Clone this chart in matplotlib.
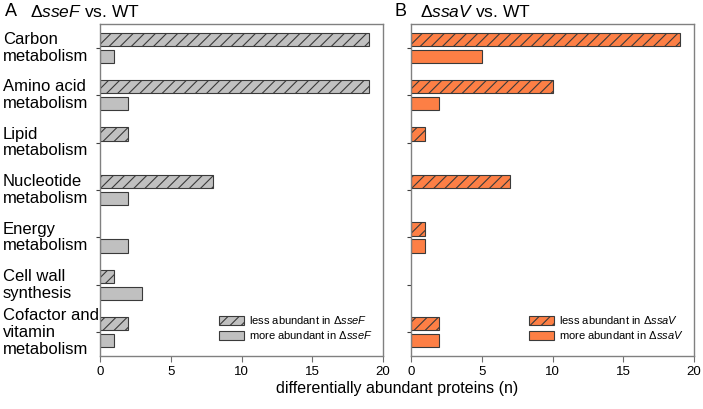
import matplotlib.pyplot as plt
import matplotlib.transforms as mtransforms
from matplotlib.patches import Patch
import numpy as np

plt.rcParams['font.family'] = ['Liberation Sans', 'DejaVu Sans']
plt.rcParams['mathtext.fontset'] = 'custom'
plt.rcParams['mathtext.rm'] = 'Liberation Sans'
plt.rcParams['mathtext.it'] = 'Liberation Sans:italic'
plt.rcParams['hatch.linewidth'] = 0.8

categories = ["Carbon\nmetabolism", "Amino acid\nmetabolism", "Lipid\nmetabolism",
              "Nucleotide\nmetabolism", "Energy\nmetabolism", "Cell wall\nsynthesis",
              "Cofactor and\nvitamin\nmetabolism"]
ssef_less = [19, 19, 2, 8, 0, 1, 2]
ssef_more = [1, 2, 0, 2, 2, 3, 1]
ssav_less = [19, 10, 1, 7, 1, 0, 2]
ssav_more = [5, 2, 0, 0, 1, 0, 2]
xticks = [0, 5, 10, 15, 20]

W, H = 703, 409
fig = plt.figure(figsize=(W / 100, H / 100), dpi=100)
axA = fig.add_axes([100 / W, 1 - 356 / H, 283 / W, 332 / H])
axB = fig.add_axes([411 / W, 1 - 356 / H, 283 / W, 332 / H])

y = np.arange(len(categories))
bh = 0.28
off = 0.18
edge = '#3a3a3a'

panels = [
    (axA, ssef_less, ssef_more, '#c0c0c0', 'sseF'),
    (axB, ssav_less, ssav_more, '#fd7f45', 'ssaV'),
]
for ax, less, more, col, name in panels:
    for i in range(len(y)):
        if less[i] > 0:
            ax.barh(y[i] - off, less[i], height=bh, color=col, edgecolor=edge,
                    linewidth=0.8, hatch='///')
        if more[i] > 0:
            ax.barh(y[i] + off, more[i], height=bh, color=col, edgecolor=edge,
                    linewidth=0.8)
    ax.set_xlim(0, 20)
    ax.set_ylim(len(categories) - 0.5, -0.5)
    ax.set_xticks(xticks)
    ax.set_xticklabels([str(t) for t in xticks], fontsize=9.5)
    ax.set_yticks(y)
    ax.set_yticklabels([])
    ax.tick_params(axis='x', direction='out', length=4, color='#707070', pad=3)
    ax.tick_params(axis='y', direction='out', length=3, color='#404040')
    for s in ax.spines.values():
        s.set_color('#808080')
        s.set_linewidth(1.0)
    handles = [Patch(facecolor=col, edgecolor=edge, hatch='///', linewidth=0.8),
               Patch(facecolor=col, edgecolor=edge, linewidth=0.8)]
    labels = [r'less abundant in $\Delta\mathit{%s}$' % name,
              r'more abundant in $\Delta\mathit{%s}$' % name]
    ax.legend(handles, labels, loc='lower right', frameon=False, fontsize=8,
              handlelength=2.2, handleheight=0.9, handletextpad=0.5,
              labelspacing=0.25, bbox_to_anchor=(1.0, 0.015))

trans = mtransforms.blended_transform_factory(fig.transFigure, axA.transData)
for i, c in enumerate(categories):
    axA.text(3 / W, y[i], c, transform=trans, ha='left', va='center',
             fontsize=12, linespacing=1.15)

fig.text(5 / W, 1 - 12 / H, 'A', fontsize=13, ha='left', va='center')
fig.text(30 / W, 1 - 12 / H, r'$\Delta\mathit{sseF}$ vs. WT', fontsize=12.5,
         ha='left', va='center')
fig.text(395 / W, 1 - 12 / H, 'B', fontsize=13, ha='left', va='center')
fig.text(420 / W, 1 - 12 / H, r'$\Delta\mathit{ssaV}$ vs. WT', fontsize=12.5,
         ha='left', va='center')
fig.text(397 / W, 1 - 389 / H, 'differentially abundant proteins (n)',
         fontsize=11.5, ha='center', va='center')

fig.savefig('out.png', dpi=100)
